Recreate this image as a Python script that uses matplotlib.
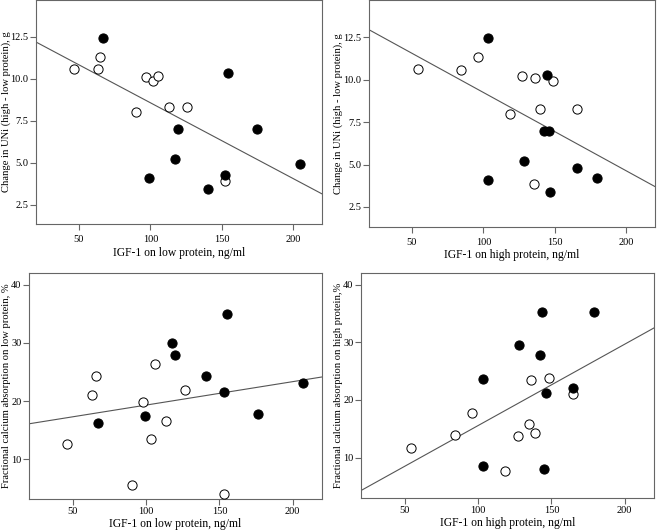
import numpy as np
import matplotlib
matplotlib.use('Agg')
import matplotlib.pyplot as plt

plt.rcParams['font.family'] = ['Liberation Serif', 'DejaVu Serif']

## Data
# top left: change in UNi vs IGF-1 on low protein
uni_low_open_x = [46.3, 63.5, 65.1, 90.2, 96.7, 102.1, 105.3, 113.0, 125.6, 151.9]
uni_low_open_y = [10.6, 10.6, 11.3, 8.0, 10.1, 9.9, 10.2, 8.3, 8.3, 3.9]
uni_low_fill_x = [67.2, 99.3, 119.1, 117.0, 140.2, 151.9, 154.0, 174.7, 204.7]
uni_low_fill_y = [12.42, 4.11, 7.02, 5.2, 3.41, 4.3, 10.32, 7.02, 4.9]

# top right: change in UNi vs IGF-1 on high protein
uni_high_open_x = [54.2, 84.3, 96.0, 118.5, 127.3, 136.2, 148.4, 139.3, 165.2, 135.3]
uni_high_open_y = [10.63, 10.6, 11.32, 7.99, 10.22, 10.1, 9.9, 8.3, 8.3, 3.88]
uni_high_fill_x = [103.3, 144.6, 142.3, 145.6, 128.5, 103.3, 146.5, 165.2, 179.7]
uni_high_fill_y = [12.44, 10.3, 7.0, 7.0, 5.2, 4.1, 3.4, 4.8, 4.2]

# bottom left: fractional calcium absorption on low protein
fca_low_open_x = [46.1, 63.0, 65.4, 90.6, 97.5, 103.0, 105.7, 113.5, 126.8, 153.2]
fca_low_open_y = [12.57, 21.14, 24.3, 5.54, 19.8, 13.5, 26.4, 16.6, 21.9, 4.1]
fca_low_fill_x = [67.4, 99.5, 117.9, 119.7, 141.1, 153.2, 155.3, 176.4, 206.7]
fca_low_fill_y = [16.2, 17.5, 29.9, 28.0, 24.4, 21.6, 35.0, 17.8, 23.1]

# bottom right: fractional calcium absorption on high protein
fca_high_open_x = [54.3, 84.1, 96.1, 118.2, 127.2, 134.9, 139.0, 136.1, 148.2, 164.9]
fca_high_open_y = [11.6, 14.0, 17.8, 7.75, 13.7, 15.8, 14.2, 23.5, 23.8, 21.1]
fca_high_fill_x = [103.2, 103.2, 128.1, 142.2, 143.8, 146.1, 145.2, 164.9, 179.0]
fca_high_fill_y = [23.6, 8.55, 29.6, 27.8, 35.2, 21.2, 8.0, 22.0, 35.3]

xticks = [50, 100, 150, 200]
uni_ticks = [2.5, 5.0, 7.5, 10.0, 12.5]
fca_ticks = [10, 20, 30, 40]

W, H = 664, 532
fig = plt.figure(figsize=(W / 100, H / 100), dpi=100)


def panel(box, ox, oy, fx, fy, ylim, yticks, yfmt, xlabel, ylabel, ylab_x, xlab_top, tpad):
    l, r, t, b = box
    ax = fig.add_axes([l / W, 1 - b / H, (r - l) / W, (b - t) / H])
    ax.scatter(ox, oy, s=44, facecolor='white', edgecolor='black', linewidth=0.7, zorder=3)
    ax.scatter(fx, fy, s=44, facecolor='black', edgecolor='black', linewidth=0.7, zorder=3)
    # least squares line over all points
    allx = np.array(ox + fx)
    ally = np.array(oy + fy)
    k, c = np.polyfit(allx, ally, 1)
    xx = np.array([20, 220])
    ax.plot(xx, k * xx + c, color='#555555', linewidth=0.8, zorder=2)
    ax.set_xlim(20, 220)
    ax.set_ylim(*ylim)
    ax.set_xticks(xticks)
    ax.set_yticks(yticks)
    ax.set_yticklabels([yfmt.format(v) for v in yticks])
    for sp in ax.spines.values():
        sp.set_color('#666666')
        sp.set_linewidth(0.8)
    ax.tick_params(direction='out', length=4, width=0.8, color='#666666',
                   labelsize=7.5, pad=1.5)
    ax.tick_params(axis='x', pad=tpad)
    ax.set_xlabel(xlabel, fontsize=8.4)
    ax.set_ylabel(ylabel, fontsize=7.6)
    # label positions in pixels relative to the frame
    ax.yaxis.set_label_coords((ylab_x - l) / (r - l), 0.5)
    ax.xaxis.set_label_coords(0.5, (b - xlab_top) / (b - t))
    return ax


panel((36, 322, 0, 224), uni_low_open_x, uni_low_open_y, uni_low_fill_x, uni_low_fill_y,
      (1.35, 14.7), uni_ticks, '{:.1f}',
      'IGF-1 on low protein, ng/ml', 'Change in UNi (high - low protein), g', 11.5, 247, 4)
panel((369, 655, 0, 227), uni_high_open_x, uni_high_open_y, uni_high_fill_x, uni_high_fill_y,
      (1.32, 14.7), uni_ticks, '{:.1f}',
      'IGF-1 on high protein, ng/ml', 'Change in UNi (high - low protein), g', 343, 249, 4)
panel((29, 322, 273, 499), fca_low_open_x, fca_low_open_y, fca_low_fill_x, fca_low_fill_y,
      (3.2, 42), fca_ticks, '{:.0f}',
      'IGF-1 on low protein, ng/ml', 'Fractional calcium absorption on low protein, %', 11, 518, 2)
panel((361, 654, 273, 498), fca_high_open_x, fca_high_open_y, fca_high_fill_x, fca_high_fill_y,
      (3.0, 42), fca_ticks, '{:.0f}',
      'IGF-1 on high protein, ng/ml', 'Fractional calcium absorption on high protein,%', 343, 517, 2)

fig.savefig('out.png', dpi=100)
